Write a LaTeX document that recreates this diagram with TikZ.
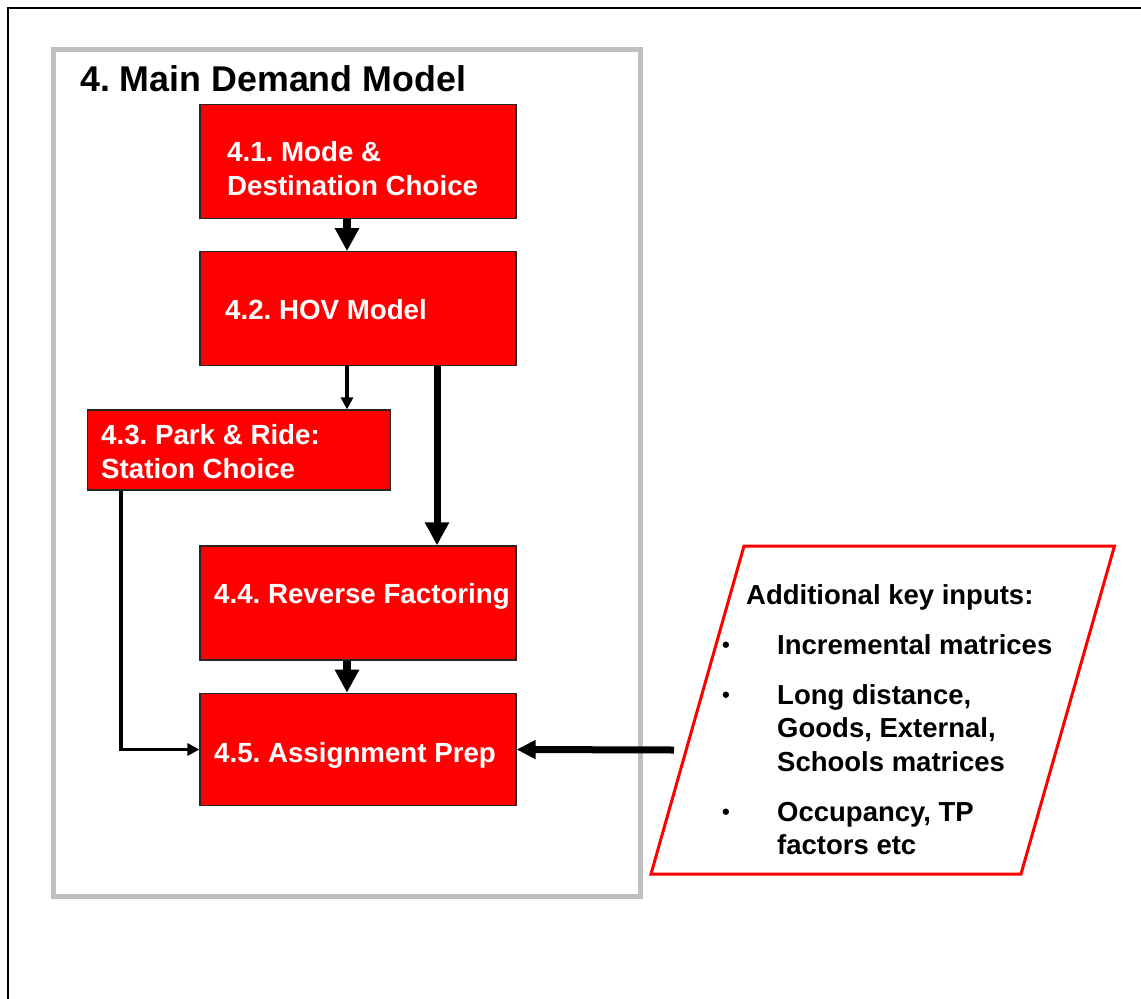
\documentclass[tikz,border=0pt]{standalone}
\usepackage{fontspec}
\setmainfont{Liberation Sans}
\frenchspacing
\usetikzlibrary{arrows.meta, positioning}
\tikzset{every node/.style={align=left, inner sep=0pt}}
\tikzset{stage/.style={draw=black!85, line width=1.2pt, fill=red, minimum width=316pt, minimum height=114pt}}
\tikzset{stagetext/.style={text=white, font=\bfseries\fontsize{27.7}{34}\selectfont}}
\tikzset{flow/.style={line width=3.2pt, -{Triangle[length=12pt, width=12pt]}}}
\tikzset{bigflow/.style={line width=8.5pt, -{Triangle[length=23pt, width=23pt]}}}
\tikzset{inflow/.style={line width=7pt, -{Triangle[length=19pt, width=18pt]}}}
\tikzset{frame/.style={line width=5pt, black!25}}
\newcommand{\bul}{\raisebox{2pt}{\fontsize{22}{22}\selectfont\textbullet}}

\begin{document}
\frenchspacing
\begin{tikzpicture}[x=1pt, y=-1pt]
	\useasboundingbox (0,0) rectangle (1141,999);
	
	% Page edge
	\draw[line width=2.4pt] (8,999) -- (8,8) -- (1141,8);
	
	% Model frame
	\draw[frame] (53,49.5) rectangle (640,896);
	\node[anchor=base west, font=\bfseries\fontsize{35.8}{40}\selectfont] (title) at (80,91) {4. Main Demand Model};
	
	% Stages
	\node[stage] (m41) at (358,161.5) {};
	\node[stage] (m42) at (358,308.7) {};
	\node[stage, minimum width=303.4pt, minimum height=80pt] (m43) at (239,450) {};
	\node[stage] (m44) at (358,602.9) {};
	\node[stage, minimum height=112.4pt] (m45) at (358,749.5) {};
	%% Text (base = last line)
	\node[stagetext, anchor=base west] (t41) at (227,195) {4.1. Mode \&\\Destination Choice};
	\node[stagetext, anchor=base west] (t42) at (225,319) {4.2. HOV Model};
	\node[stagetext, anchor=base west] (t43) at (101,478) {4.3. Park \& Ride:\\Station Choice};
	\node[stagetext, anchor=base west] (t44) at (214,603) {4.4. Reverse Factoring};
	\node[stagetext, anchor=base west] (t45) at (214,762) {4.5. Assignment Prep};
	
	% Key inputs
	\coordinate (K1) at (744,546);
	\coordinate (K2) at (1114.5,546);
	\coordinate (K3) at (1021,874);
	\coordinate (K4) at (651,874);
	\draw[red, line width=3pt] (K1) -- (K2) -- (K3) -- (K4) -- cycle;
	%% Node
	\node[anchor=base west, font=\bfseries\fontsize{27.5}{33.5}\selectfont] (inputs) at (722,604) {%
		\begin{tabular}[t]{@{}p{55pt}@{}l@{}}
			\multicolumn{2}{@{}l@{}}{\hspace{24pt}Additional key inputs:}\\[16.5pt]
			\bul & Incremental matrices\\[16.5pt]
			\bul & Long distance,\\
			& Goods, External,\\
			& Schools matrices\\[16.5pt]
			\bul & Occupancy, TP\\
			& factors etc
		\end{tabular}};
	\coordinate (inp) at (674,750);
	
	% Arrows
	\draw[bigflow] ([xshift=-11pt]m41.south) -- ([xshift=-11pt]m42.north);
	\draw[flow] ([xshift=-11pt]m42.south) -- ([xshift=-11pt]m42.south |- m43.north);
	\draw[bigflow, line width=7pt] ([xshift=79pt]m42.south) -- ([xshift=79pt]m44.north);
	\draw[bigflow] ([xshift=-11pt]m44.south) -- ([xshift=-11pt]m45.north);
	\draw[flow] ([xshift=-118pt]m43.south) |- (m45.west);
	\draw[inflow] (inp) -- (m45.east);
\end{tikzpicture}
\end{document}
